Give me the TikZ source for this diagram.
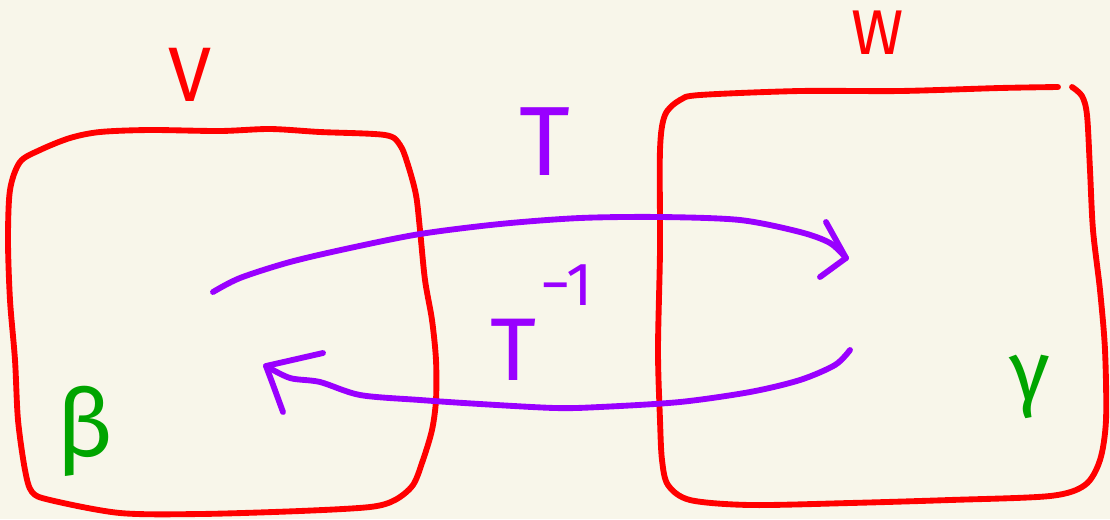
\documentclass[tikz,border=0pt]{standalone}
\usepackage{fontspec}
\setmainfont{Fira Sans}
\definecolor{bg}{RGB}{248,246,234}
\definecolor{penred}{RGB}{255,0,0}
\definecolor{penpurple}{RGB}{153,0,255}
\definecolor{pengreen}{RGB}{0,165,0}
\begin{document}
\begin{tikzpicture}[x=0.03cm,y=-0.03cm,
  ink/.style={line width=5pt,line cap=round,line join=round},
  boxline/.style={ink,draw=penred},
  arrowline/.style={ink,draw=penpurple},
  lbl/.style={inner sep=0pt}]
\useasboundingbox (0,0) rectangle (1110,519);
\fill[bg] (0,0) rectangle (1110,519);
% box V
\draw[boxline] plot[smooth cycle,tension=0.5] coordinates {
 (100,132) (150,130) (220,131) (270,129) (320,132) (385,135)
 (400,145) (408,165) (416,195) (420,230) (425,280) (432,320) (436,360) (436,400)
 (432,430) (423,460) (413,485) (395,500) (370,507)
 (300,511) (200,514) (120,513) (50,500) (32,492) (25,470) (18,420) (15,360)
 (10,300) (8,240) (10,190) (20,162) (40,150) (70,138)};
% box W
\draw[boxline] plot[smooth,tension=0.5] coordinates {
 (1058,87) (1000,88) (900,91) (800,91) (700,95) (680,100) (665,115) (660,150)
 (660,250) (658,350) (660,420) (662,460) (668,485) (690,500) (750,505) (850,503)
 (950,500) (1050,496) (1085,485) (1100,460) (1106,420) (1105,350) (1100,290)
 (1093,230) (1090,170) (1087,115) (1082,96) (1072,87)};
% labels
\node[lbl,anchor=base,text=penred,font=\fontsize{66}{66}\selectfont] (V) at (190,101) {V};
\node[lbl,anchor=base,text=penred,font=\fontsize{54}{54}\selectfont] (W) at (878,54) {W};
\node[lbl,anchor=base,text=penpurple,font=\fontsize{84}{84}\selectfont] (T) at (545,175) {T};
\node[lbl,anchor=base west,text=penpurple,font=\fontsize{76}{76}\selectfont] (Tinv) at (490,380)
  {T\hspace{0.05em}\raisebox{64pt}{\fontsize{52}{52}\selectfont −1}};
\node[lbl,anchor=base,text=pengreen,font=\fontsize{80}{80}\selectfont] (beta) at (85,456) {β};
\node[lbl,anchor=base,text=pengreen,font=\fontsize{72}{72}\selectfont] (gamma) at (1030,400) {γ};
% arrow T
\coordinate (ts) at (213,292);
\coordinate (te) at (846,258);
\draw[arrowline] plot[smooth,tension=0.5] coordinates {
 (ts) (240,278) (290,262) (350,248) (420,234) (500,224) (580,218) (660,217)
 (740,220) (800,232) (830,243) (te)};
\draw[arrowline] (826,222) -- (te) -- (820,277);
% arrow T^-1
\coordinate (us) at (850,350);
\coordinate (ue) at (266,366);
\draw[arrowline] plot[smooth,tension=0.5] coordinates {
 (us) (835,365) (800,380) (750,392) (680,402) (600,407) (555,408) (480,404)
 (420,400) (360,395) (320,382) (290,378) (ue)};
\draw[arrowline] (323,353) -- (ue) -- (272,382) -- (283,412);
\end{tikzpicture}
\end{document}
